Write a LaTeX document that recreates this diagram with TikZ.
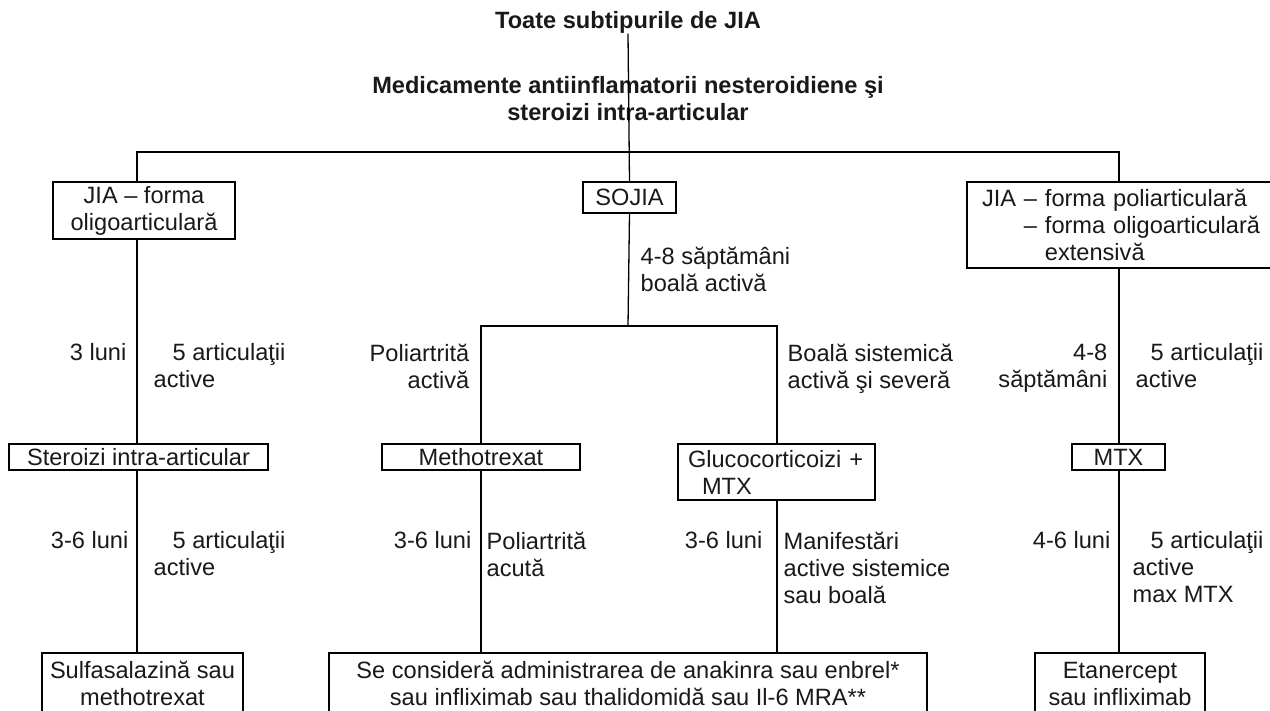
\documentclass[tikz,border=0pt]{standalone}
\usepackage{fontspec}
\setmainfont{Liberation Sans}

\begin{document}
\begin{tikzpicture}[x=.5pt,y=-.5pt,line width=.65pt,
		every node/.style={font=\fontsize{11.8}{13.5}\selectfont,inner sep=0pt,text=black!90},
		box/.style={draw,align=center},
		lbl/.style={align=left},
		lblr/.style={align=right}]
			\useasboundingbox (0,0) rectangle (1270,711);
			\path
			(137,0) coordinate (colA)
			(481,0) coordinate (colM)
			(777,0) coordinate (colG)
			(1119,0) coordinate (colC)
			(628,152) coordinate (bar1)
			(628,326) coordinate (bar2)
			;
			% top
			\node[font=\fontsize{11.8}{13.5}\selectfont\bfseries] (toate) at (628,22) {Toate subtipurile de JIA};
			\node[font=\fontsize{11.8}{13.5}\selectfont\bfseries,align=center] (ains) at (628,99) {Medicamente antiinflamatorii nesteroidiene şi\\steroizi intra-articular};
			% boxes
			\node[box,minimum width=91pt,minimum height=28.5pt] (oligo) at (144,210.5) {JIA – forma\\oligoarticulară};
			\node[box,minimum width=46.5pt,minimum height=15.5pt] (sojia) at (629.5,197.5) {SOJIA};
			\node[box,align=left,text width=141.5pt,inner xsep=7.5pt,minimum height=43pt] (poli) at (1123.5,225) {JIA – forma poliarticulară\\\phantom{JIA }– forma oligoarticulară\\\phantom{JIA – }extensivă};
			\node[box,minimum width=129.5pt,minimum height=13pt] (steroizi) at (138.5,457) {Steroizi intra-articular};
			\node[box,minimum width=99pt,minimum height=13pt] (metho) at (481,457) {Methotrexat};
			\node[box,align=left,text width=88.5pt,inner xsep=5pt,minimum height=28pt] (gluco) at (776.5,472) {Glucocorticoizi +\\\hspace*{7pt}MTX};
			\node[box,minimum width=46.5pt,minimum height=13pt] (mtx) at (1118.5,457) {MTX};
			\node[box,minimum width=100.5pt,minimum height=30.5pt] (sulfa) at (142.5,683.5) {Sulfasalazină sau\\methotrexat};
			\node[box,minimum width=299pt,minimum height=30.5pt] (anakinra) at (628,683.5) {Se consideră administrarea de anakinra sau enbrel*\\sau infliximab sau thalidomidă sau Il-6 MRA**};
			\node[box,minimum width=85pt,minimum height=30.5pt] (etan) at (1120,683.5) {Etanercept\\sau infliximab};
			% connectors
			\draw (toate.south) -- (sojia.north);
			\draw (oligo.north -| colA) |- (bar1) -| (poli.north -| colC);
			\draw (oligo.south -| colA) -- (steroizi.north -| colA);
			\draw (steroizi.south -| colA) -- (sulfa.north -| colA);
			\draw (sojia.south) -- (bar2);
			\draw (metho.north -| colM) |- (bar2) -| (gluco.north -| colG);
			\draw (metho.south -| colM) -- (anakinra.north -| colM);
			\draw (gluco.south -| colG) -- (anakinra.north -| colG);
			\draw (poli.south -| colC) -- (mtx.north -| colC);
			\draw (mtx.south -| colC) -- (etan.north -| colC);
			% labels
			\node[lblr,anchor=north east] (l3luni) at (127,343) {3 luni};
			\node[lbl,anchor=north west] (l5art) at (153,343) {\hspace*{9.5pt}5 articulaţii\\active};
			\node[lbl,anchor=north west] (l48) at (640,246) {4-8 săptămâni\\boală activă};
			\node[lblr,anchor=north east] (lpoli) at (470,343) {Poliartrită\\activă};
			\node[lbl,anchor=north west] (lsist) at (787,343) {Boală sistemică\\activă şi severă};
			\node[lblr,anchor=north east] (l48s) at (1108,343) {4-8\\săptămâni};
			\node[lbl,anchor=north west] (l5artc) at (1135,343) {\hspace*{7.5pt}5 articulaţii\\active};
			\node[lblr,anchor=north east] (l36a) at (129,531) {3-6 luni};
			\node[lbl,anchor=north west] (l5arta) at (153,531) {\hspace*{9.5pt}5 articulaţii\\active};
			\node[lblr,anchor=north east] (l36m) at (472,531) {3-6 luni};
			\node[lbl,anchor=north west] (lacuta) at (486,531) {Poliartrită\\acută};
			\node[lblr,anchor=north east] (l36g) at (763,531) {3-6 luni};
			\node[lbl,anchor=north west] (lmanif) at (783,531) {Manifestări\\active sistemice\\sau boală};
			\node[lblr,anchor=north east] (l46) at (1111,531) {4-6 luni};
			\node[lbl,anchor=north west] (lmax) at (1132,531) {\hspace*{9pt}5 articulaţii\\active\\max MTX};
		\end{tikzpicture}
\end{document}
